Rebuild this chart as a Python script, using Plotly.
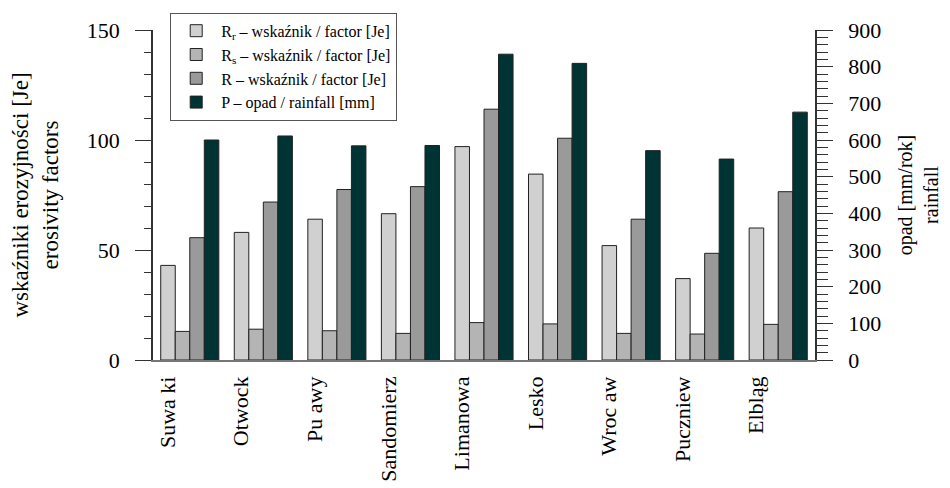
import plotly.graph_objects as go

stations = ["Suwa ki", "Otwock", "Pu awy", "Sandomierz", "Limanowa", "Lesko", "Wroc aw", "Puczniew", "Elbląg"]
rr_values = [43, 58, 64, 66.5, 97, 84.5, 52, 37, 60]
rs_values = [13, 14, 13.3, 12.1, 17, 16.4, 12.1, 11.8, 16.2]
r_values = [55.6, 71.8, 77.5, 78.8, 114, 100.8, 64, 48.5, 76.5]
p_values = [600, 611, 584, 585, 834, 809, 571, 548, 676]

names = [
    "R<sub>r</sub> – wskaźnik / factor [Je]",
    "R<sub>s</sub> – wskaźnik / factor [Je]",
    "R – wskaźnik / factor [Je]",
    "P – opad / rainfall [mm]",
]
colors = ["#d0d0d0", "#b4b4b4", "#9a9a9a", "#003333"]

xpos = list(range(len(stations)))
FONT = "Liberation Serif, Times New Roman, serif"

fig = go.Figure()
series = [rr_values, rs_values, r_values, p_values]
for i, (vals, name, col) in enumerate(zip(series, names, colors)):
    fig.add_trace(go.Bar(
        x=xpos, y=vals, name=name,
        marker=dict(color=col, line=dict(color="#222222", width=1)),
        offsetgroup=str(i),
        yaxis="y2" if i == 3 else "y",
    ))

# The page body has a default 8px margin, so the figure is sized to fit the 950x488 window.
fig.update_layout(
    width=942, height=480,
    margin=dict(l=145, r=135, t=22, b=128, autoexpand=False),
    paper_bgcolor="white", plot_bgcolor="white",
    barmode="group", bargap=0.21, bargroupgap=0,
    font=dict(family=FONT, size=22, color="black"),
    showlegend=True,
    legend=dict(
        x=0.026, y=0.99, xanchor="left", yanchor="top", yref="container",
        bgcolor="white", bordercolor="#555555", borderwidth=1,
        font=dict(family=FONT, size=16, color="black"),
        tracegroupgap=0, itemwidth=40,
    ),
    xaxis=dict(
        range=[-0.5, len(stations) - 0.5], automargin=False,
        tickvals=[v - 0.3 for v in xpos], ticktext=stations,
        tickangle=-90, ticks="", showline=True, linecolor="#777777", linewidth=1.5,
        showgrid=False, zeroline=False, ticklabelstandoff=6,
        tickfont=dict(family=FONT, size=22),
    ),
    yaxis=dict(
        range=[0, 150], tickvals=[0, 50, 100, 150], ticks="outside", ticklen=16,
        automargin=False, ticklabelstandoff=11,
        tickcolor="#333333", showline=True, linecolor="#333333", linewidth=1.5,
        showgrid=False, zeroline=False,
        minor=dict(dtick=10, ticks="outside", ticklen=7, tickcolor="#333333", showgrid=False),
        title=dict(text="wskaźniki erozyjności [Je]<br>erosivity factors",
                   font=dict(family=FONT, size=23), standoff=22),
        tickfont=dict(family=FONT, size=22),
    ),
    yaxis2=dict(
        range=[0, 900], overlaying="y", side="right", automargin=False,
        dtick=100, ticks="outside", ticklen=16, tickcolor="#333333", ticklabelstandoff=11,
        showline=True, linecolor="#333333", linewidth=1.5,
        showgrid=False, zeroline=False,
        minor=dict(dtick=20, ticks="outside", ticklen=11, tickcolor="#333333", showgrid=False),
        title=dict(text="opad [mm/rok]<br>rainfall",
                   font=dict(family=FONT, size=20), standoff=18),
        tickfont=dict(family=FONT, size=22),
    ),
)

fig.write_html("out.html")
